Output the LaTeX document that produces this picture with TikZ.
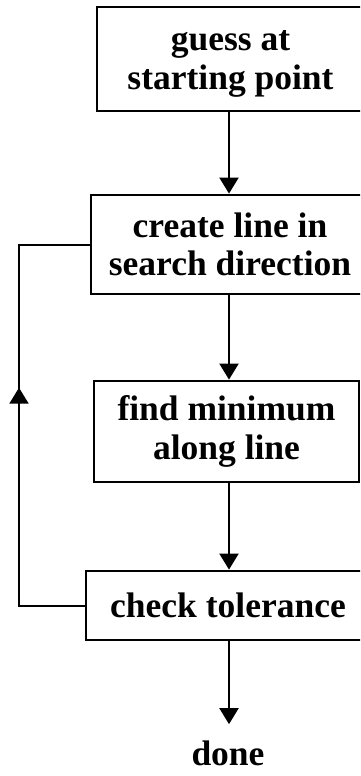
\documentclass[tikz,border=0pt]{standalone}
\usepackage{fontspec}
\setmainfont{Liberation Serif}
\usetikzlibrary{arrows.meta,decorations.markings}
\tikzset{
  boxstyle/.style={draw, line width=2.8pt, rectangle, align=center, inner sep=0pt,
    font=\fontsize{35.5}{38.5}\selectfont\bfseries},
  arr/.style={line width=2pt, -{Triangle[length=16pt,width=19pt]}},
  loopline/.style={line width=2pt,
    decoration={markings, mark=at position 0.57 with {\arrow{Triangle[length=16pt,width=19pt]}}},
    postaction={decorate}},
  txt/.style={inner sep=0pt, align=center, font=\fontsize{35.5}{38.5}\selectfont\bfseries},
  endtxt/.style={inner sep=0pt, font=\fontsize{35.5}{38.5}\selectfont\bfseries}
}
\begin{document}
\begin{tikzpicture}[x=1pt,y=-1pt]
\useasboundingbox (0,0) rectangle (360,776);
\clip (0,0) rectangle (360,776);
\coordinate (colx) at (229,0);
\node[boxstyle, minimum width=267pt, minimum height=104pt,
  label={[txt, yshift=-5pt]center:guess at\\starting point}] (b1) at (230.5,59) {};
\node[boxstyle, minimum width=278pt, minimum height=99pt] (b2) at (230,244.5) {create line in\\search direction};
\node[boxstyle, minimum width=265pt, minimum height=101pt] (b3) at (226.5,431.5) {find minimum\\along line};
\node[boxstyle, minimum width=284pt, minimum height=69pt] (b4) at (228,605.5) {check tolerance};
\node[endtxt, anchor=base] (done) at (228,765) {done};
\coordinate (lft) at (19,0);
\draw[arr] (b1.south -| colx) -- (b2.north -| colx);
\draw[arr] (b2.south -| colx) -- (b3.north -| colx);
\draw[arr] (b3.south -| colx) -- (b4.north -| colx);
\draw[arr] (b4.south -| colx) -- ([yshift=16pt]done.north -| colx);
\draw[loopline] (b4.west) -- (b4.west -| lft) -- (b2.west -| lft) -- (b2.west);
\end{tikzpicture}
\end{document}
